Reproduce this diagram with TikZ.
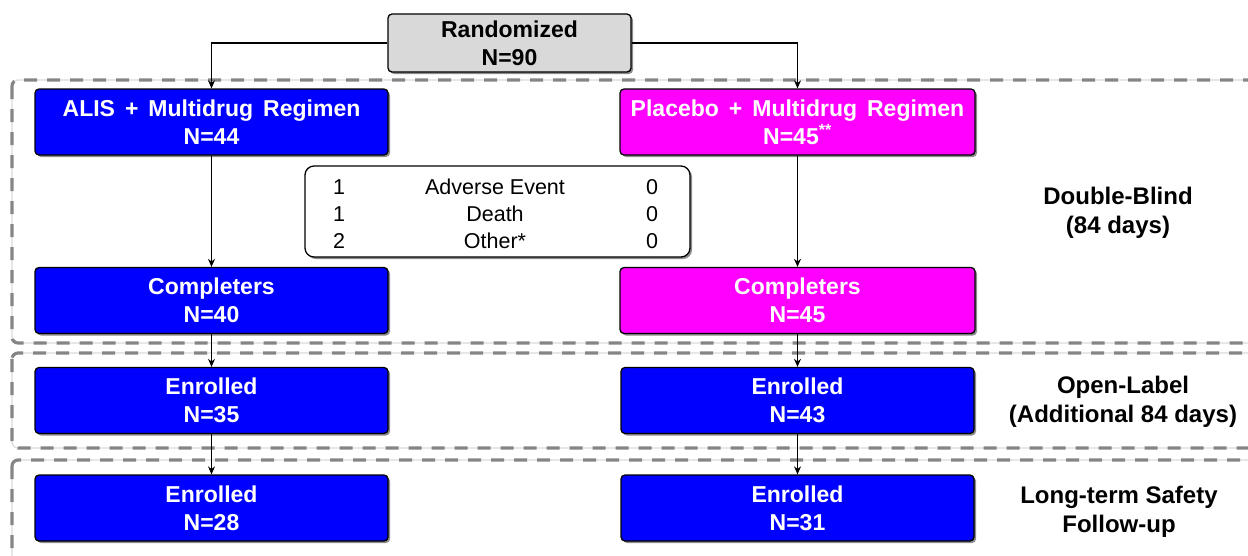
\documentclass[tikz,border=0pt]{standalone}
\usepackage{fontspec}
\setmainfont{Liberation Sans}
\usetikzlibrary{arrows.meta,shadows}
\definecolor{boxblue}{HTML}{0000FF}
\definecolor{boxmag}{HTML}{FF00FF}
\definecolor{boxgray}{HTML}{D9D9D9}
\definecolor{dashgray}{HTML}{858585}
\definecolor{dashlight}{HTML}{DADADA}
\newcommand\wgap{\hspace{10pt}}
\tikzset{
  shad/.style={drop shadow={shadow xshift=2pt,shadow yshift=-2pt,opacity=0.45,fill=black}},
  flowbox/.style={draw=black,line width=1.3pt,rounded corners=4pt,shad,align=center,
    text=white,font=\fontsize{23}{28}\selectfont\bfseries,inner sep=0pt},
  bluebox/.style={flowbox,fill=boxblue,minimum width=353pt,minimum height=66pt},
  magbox/.style={flowbox,fill=boxmag,minimum width=355pt,minimum height=66pt},
  graybox/.style={flowbox,fill=boxgray,text=black,minimum width=243pt,minimum height=58pt},
  tablebox/.style={draw=black,line width=1.3pt,rounded corners=9pt,fill=white,shad,
    minimum width=385pt,minimum height=91pt},
  tabtext/.style={align=center,font=\fontsize{21.5}{27}\selectfont,inner sep=0pt},
  phaseback/.style={draw=dashlight,line width=1.2pt,rounded corners=6pt},
  phase/.style={draw=dashgray,line width=3.2pt,dash pattern=on 13pt off 10pt,rounded corners=6pt},
  phaselabel/.style={align=center,font=\fontsize{24}{29}\selectfont\bfseries,inner sep=0pt},
  conn/.style={draw=black,line width=1.2pt,-{Stealth[length=8pt,width=7pt]}},
}
\begin{document}
\begin{tikzpicture}[x=1pt,y=-1pt]
\useasboundingbox (0,0) rectangle (1248,555);
% phase frames
\draw[phaseback] (12,80) rectangle (1275,343);
\draw[phaseback] (12,353) rectangle (1275,448);
\draw[phaseback] (12,460) rectangle (1275,600);
\draw[phase] (12,80) rectangle (1275,343);
\draw[phase] (12,353) rectangle (1275,448);
\draw[phase] (12,460) rectangle (1275,600);
% boxes
\node[graybox] (rand) at (509.5,43) {Randomized\\N=90};
\node[bluebox] (alis) at (211.5,122) {ALIS\wgap+\wgap Multidrug\wgap Regimen\\N=44};
\node[magbox] (plac) at (797.5,122) {Placebo\wgap+\wgap Multidrug\wgap Regimen\\N=45\textsuperscript{**}};
\node[tablebox] (tab) at (497.5,211.5) {};
\node[tabtext] (tabA) at (339,214) {1\\1\\2};
\node[tabtext] (tabB) at (495,214) {Adverse Event\\Death\\Other*};
\node[tabtext] (tabC) at (652,214) {0\\0\\0};
\node[bluebox] (comp1) at (211.5,300.5) {Completers\\N=40};
\node[magbox] (comp2) at (797.5,300.5) {Completers\\N=45};
\node[bluebox] (enr1) at (211.5,400.5) {Enrolled\\N=35};
\node[bluebox] (enr2) at (797.5,400.5) {Enrolled\\N=43};
\node[bluebox] (lt1) at (211.5,508) {Enrolled\\N=28};
\node[bluebox] (lt2) at (797.5,508) {Enrolled\\N=31};
% labels
\node[phaselabel] (lab1) at (1118,213) {Double-Blind\\(84 days)};
\node[phaselabel] (lab2) at (1123,402) {Open-Label\\(Additional 84 days)};
\node[phaselabel] (lab3) at (1119,512) {Long-term Safety\\Follow-up};
% connectors
\draw[conn] (rand.west) -| (alis.north);
\draw[conn] (rand.east) -| (plac.north);
\draw[conn] (alis) -- (comp1);
\draw[conn] (plac) -- (comp2);
\draw[conn] (comp1) -- (enr1);
\draw[conn] (comp2) -- (enr2);
\draw[conn] (enr1) -- (lt1);
\draw[conn] (enr2) -- (lt2);
\end{tikzpicture}
\end{document}
